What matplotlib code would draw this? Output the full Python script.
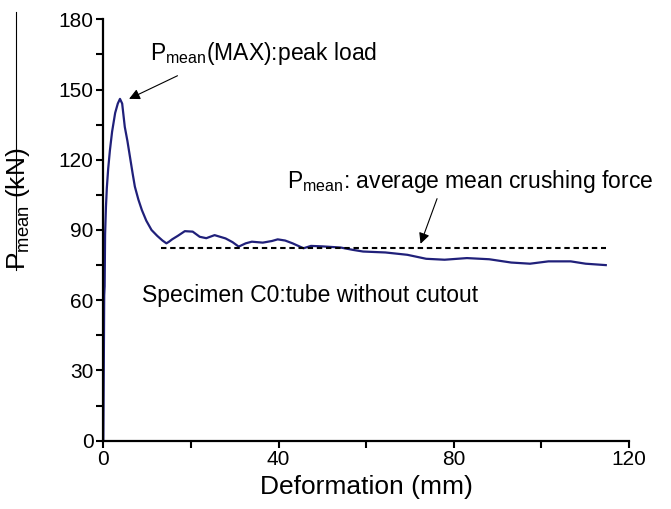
import matplotlib
matplotlib.use("Agg")
from matplotlib import pyplot as plt
from matplotlib.lines import Line2D

# crushing curve of specimen C0
deformation = [0, 0.1, 0.2, 0.3, 0.4, 0.6, 0.8, 1.1, 1.5, 2.0, 2.7, 3.3, 3.8,
               4.3, 4.9, 5.5, 6.1, 6.7, 7.2, 8.0, 8.8, 9.8, 11.0, 12.3, 13.5,
               14.4, 15.0, 15.7, 17.0, 18.6, 20.4, 22.0, 23.5, 25.4, 27.9,
               29.5, 30.9, 32.5, 33.9, 36.4, 38.5, 39.8, 41.5, 43.2, 45.7,
               47.4, 50.0, 54.2, 57.0, 59.3, 64.4, 69.4, 73.7, 77.9, 83.0,
               88.1, 93.1, 97.4, 101.6, 106.7, 110.1, 114.7]
force = [0, 30, 62, 66, 88, 100, 108, 116, 124, 132, 140, 144, 146, 144, 134,
         128, 121, 114, 108.5, 103, 98.5, 94, 90, 87.5, 85.5, 84.3, 85, 86,
         87.5, 89.5, 89.3, 87.1, 86.5, 87.8, 86.4, 84.8, 82.9, 84.3, 85.0,
         84.6, 85.3, 86.0, 85.5, 84.3, 82.2, 83.2, 83.0, 82.5, 81.5, 80.8,
         80.4, 79.4, 77.7, 77.3, 78.0, 77.5, 76.1, 75.6, 76.6, 76.6, 75.6, 75.0]

avg_force = 82.2
avg_range = [13.1, 114.7]

xticks = [0, 40, 80, 120]
yticks = [0, 30, 60, 90, 120, 150, 180]

plt.rcParams["font.family"] = ["Liberation Sans", "DejaVu Sans"]
plt.rcParams["mathtext.default"] = "regular"

fig = plt.figure(figsize=(6.71, 5.09), dpi=100)
ax = fig.add_axes([0.154, 0.1342, 0.7834, 0.8279])

ax.plot(deformation, force, color="#20207a", lw=1.6)
ax.plot(avg_range, [avg_force, avg_force], color="k", lw=1.5, dashes=(2.6, 1.8))

ax.set_xlim(0, 120)
ax.set_ylim(0, 180)
ax.set_xticks(xticks)
ax.set_xticks([20, 60, 100], minor=True)
ax.set_yticks(yticks)
ax.set_yticks([15, 45, 75, 105, 135, 165], minor=True)
for s in ["top", "right"]:
    ax.spines[s].set_visible(False)
for s in ["left", "bottom"]:
    ax.spines[s].set_linewidth(1.6)
ax.tick_params(which="both", direction="out", length=5, width=1.5, labelsize=15, pad=2)

ax.set_xlabel("Deformation (mm)", fontsize=19, labelpad=4)
ax.set_ylabel("P$_{mean}$ (kN)", fontsize=19)
ax.yaxis.set_label_coords(-0.135, 0.55)

ax.annotate("", xy=(5.3, 145.5), xytext=(17.5, 156.4),
            arrowprops=dict(arrowstyle="-|>", color="k", lw=0.8, mutation_scale=16))
ax.text(10.7, 162.6, "P$_{mean}$(MAX):peak load", fontsize=16.5, va="baseline")

ax.annotate("", xy=(72.2, 83.0), xytext=(76.4, 104.5),
            arrowprops=dict(arrowstyle="-|>", color="k", lw=0.8, mutation_scale=16))
ax.text(41.9, 107.9, "P$_{mean}$: average mean crushing force", fontsize=16.5,
        va="baseline", clip_on=False)

ax.text(8.8, 59.2, "Specimen C0:tube without cutout", fontsize=16.5, va="baseline")

# thin stray rule at the left edge of the original
fig.add_artist(Line2D([16 / 671, 16 / 671], [1 - 12 / 509, 1 - 270 / 509],
                      color="k", lw=0.8))

fig.savefig("out.png", dpi=100)
